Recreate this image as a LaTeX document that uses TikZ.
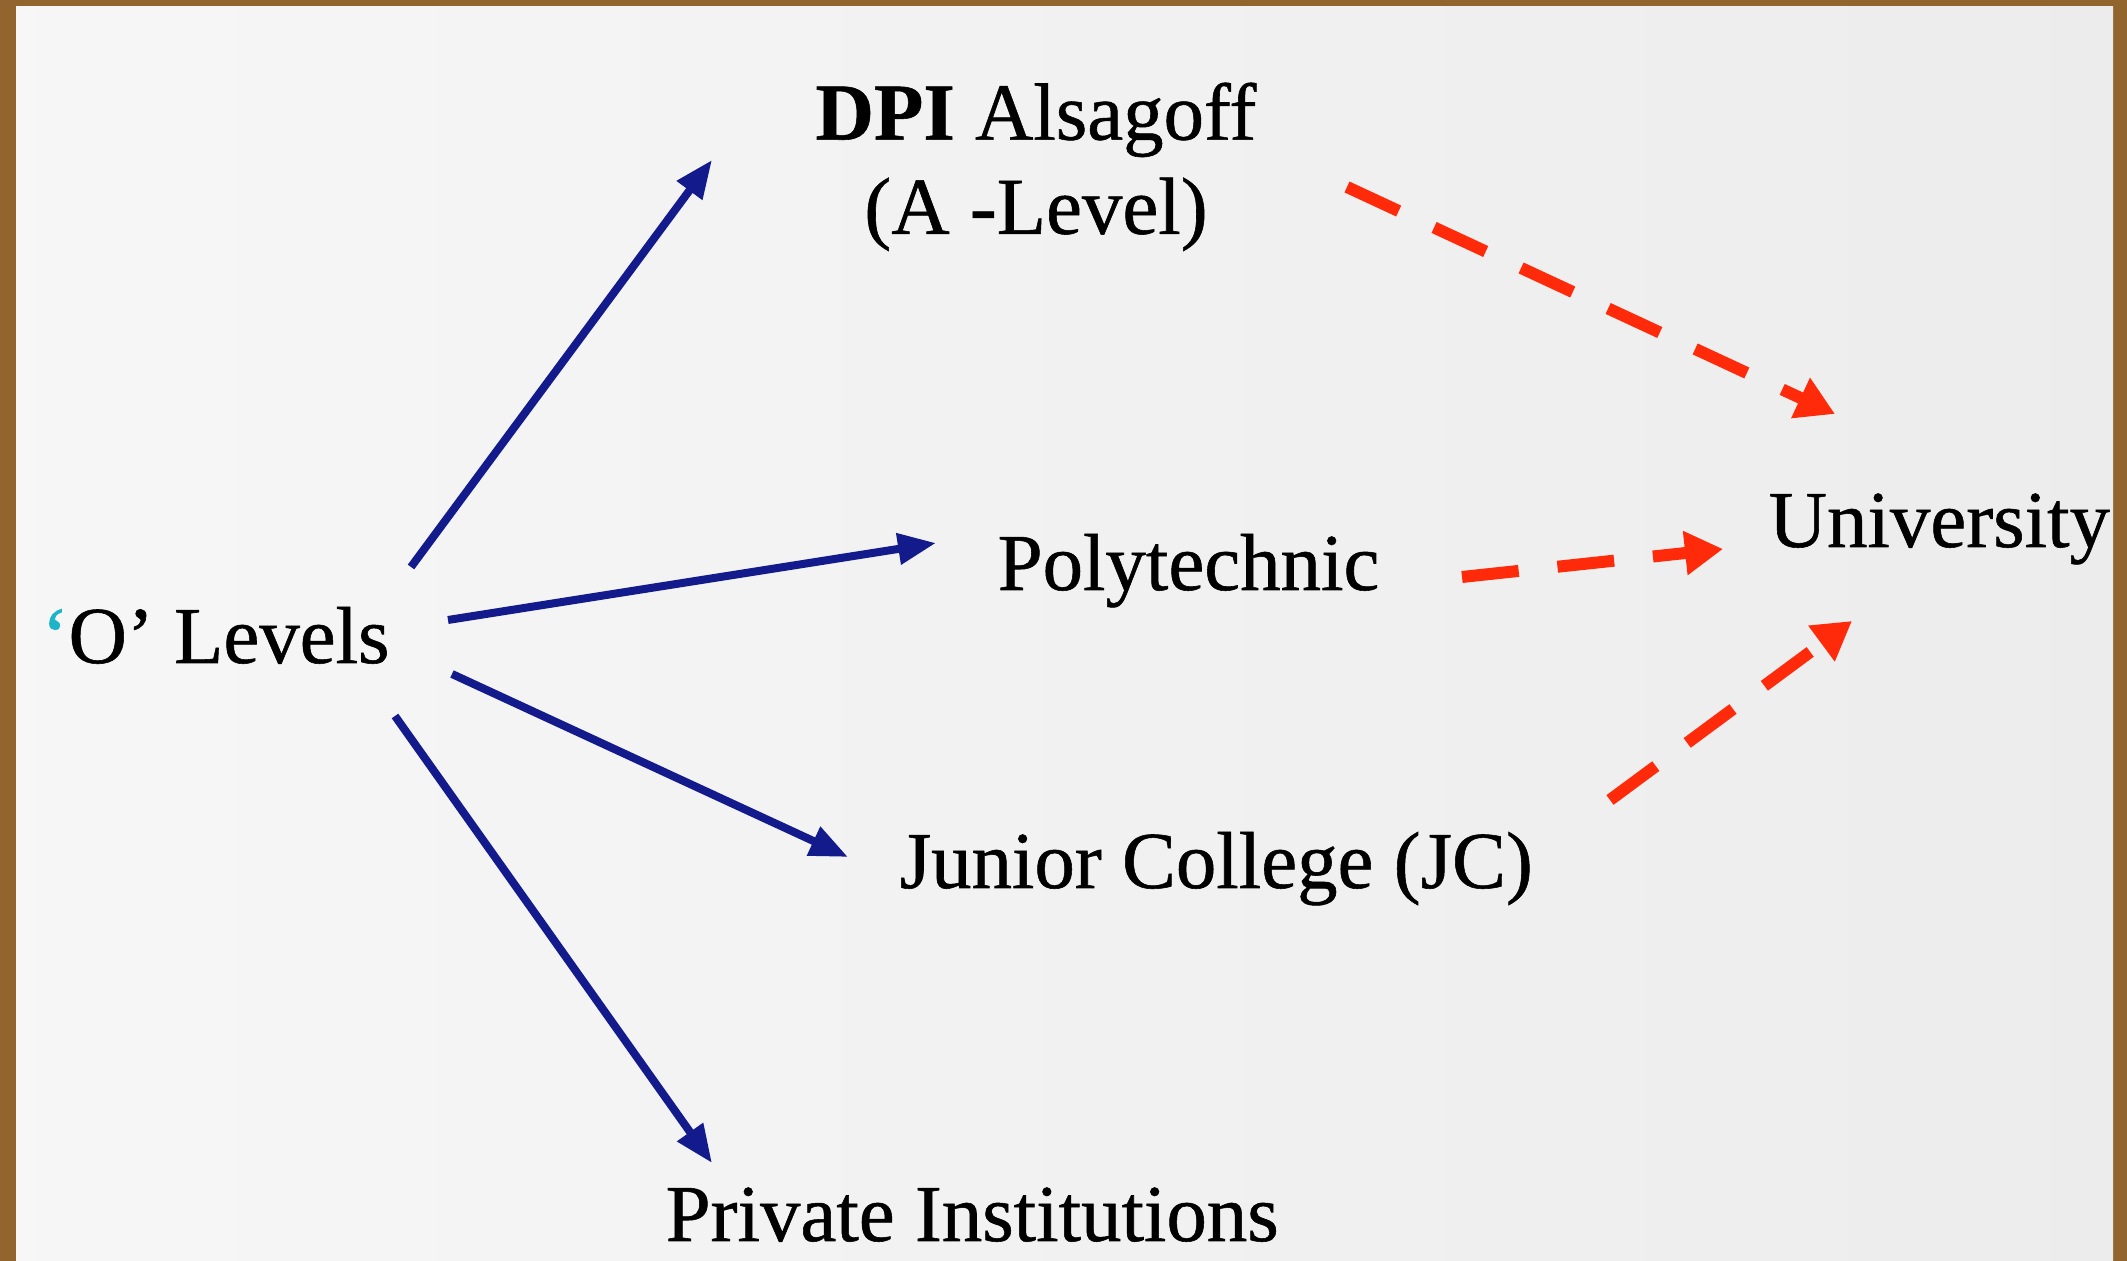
\documentclass[tikz,border=0pt]{standalone}
\usepackage{fontspec}
\setmainfont{Liberation Serif}[FakeBold=0.7]
\usetikzlibrary{arrows.meta}
\definecolor{wood}{RGB}{146,101,47}
\definecolor{panel}{RGB}{241,241,241}
\definecolor{navy}{RGB}{18,26,140}
\definecolor{redarrow}{RGB}{255,42,10}
\definecolor{quotecyan}{RGB}{30,180,200}
\tikzset{
  lbl/.style={inner sep=0pt, font=\fontsize{23}{27}\selectfont, text=black},
  bluearrow/.style={draw=navy, line width=0.8mm, -{Triangle[length=3.8mm,width=3mm]}},
  redarrow/.style={draw=redarrow, line width=1.2mm, dash pattern=on 5.7mm off 3.9mm, -{Triangle[length=3.8mm,width=4.2mm]}}
}
\begin{document}
\begin{tikzpicture}[x=0.1mm,y=-0.1mm]
\useasboundingbox (0,0) rectangle (2127,1261);
\fill[wood] (0,0) rectangle (2127,1261);
\shade[left color=white!40!panel, right color=panel!98!black] (16,7) rectangle (2113,1261);

\node[lbl, anchor=base west] (olev) at (41,663) {{\color{quotecyan}‘}O’ Levels};
\node[lbl, anchor=north, align=center] (dpi) at (1036,82) {\textbf{DPI} Alsagoff\\[-0.2pt](A -Level)};
\node[lbl, anchor=base west] (poly) at (997,590) {Polytechnic};
\node[lbl, anchor=base west] (uni) at (1768,547) {University};
\node[lbl, anchor=base west] (jc) at (899,888) {Junior College (JC)};
\node[lbl, anchor=base west] (priv) at (665,1241) {Private Institutions};

% connector end points
\coordinate (o1) at (411,567);
\coordinate (o2) at (448,620);
\coordinate (o3) at (452,674);
\coordinate (o4) at (395,716);
\coordinate (dpiIn) at (712,160);
\coordinate (polyIn) at (936,543);
\coordinate (jcIn) at (848,857);
\coordinate (privIn) at (712,1163);
\coordinate (dpiOut) at (1347,187);
\coordinate (polyOut) at (1462,577);
\coordinate (jcOut) at (1610,800);
\coordinate (uni1) at (1835,414);
\coordinate (uni2) at (1723,549);
\coordinate (uni3) at (1852,621);

\draw[bluearrow] (o1) -- (dpiIn);
\draw[bluearrow] (o2) -- (polyIn);
\draw[bluearrow] (o3) -- (jcIn);
\draw[bluearrow] (o4) -- (privIn);

\draw[redarrow] (dpiOut) -- (uni1);
\draw[redarrow] (polyOut) -- (uni2);
\draw[redarrow] (jcOut) -- (uni3);
\end{tikzpicture}
\end{document}
